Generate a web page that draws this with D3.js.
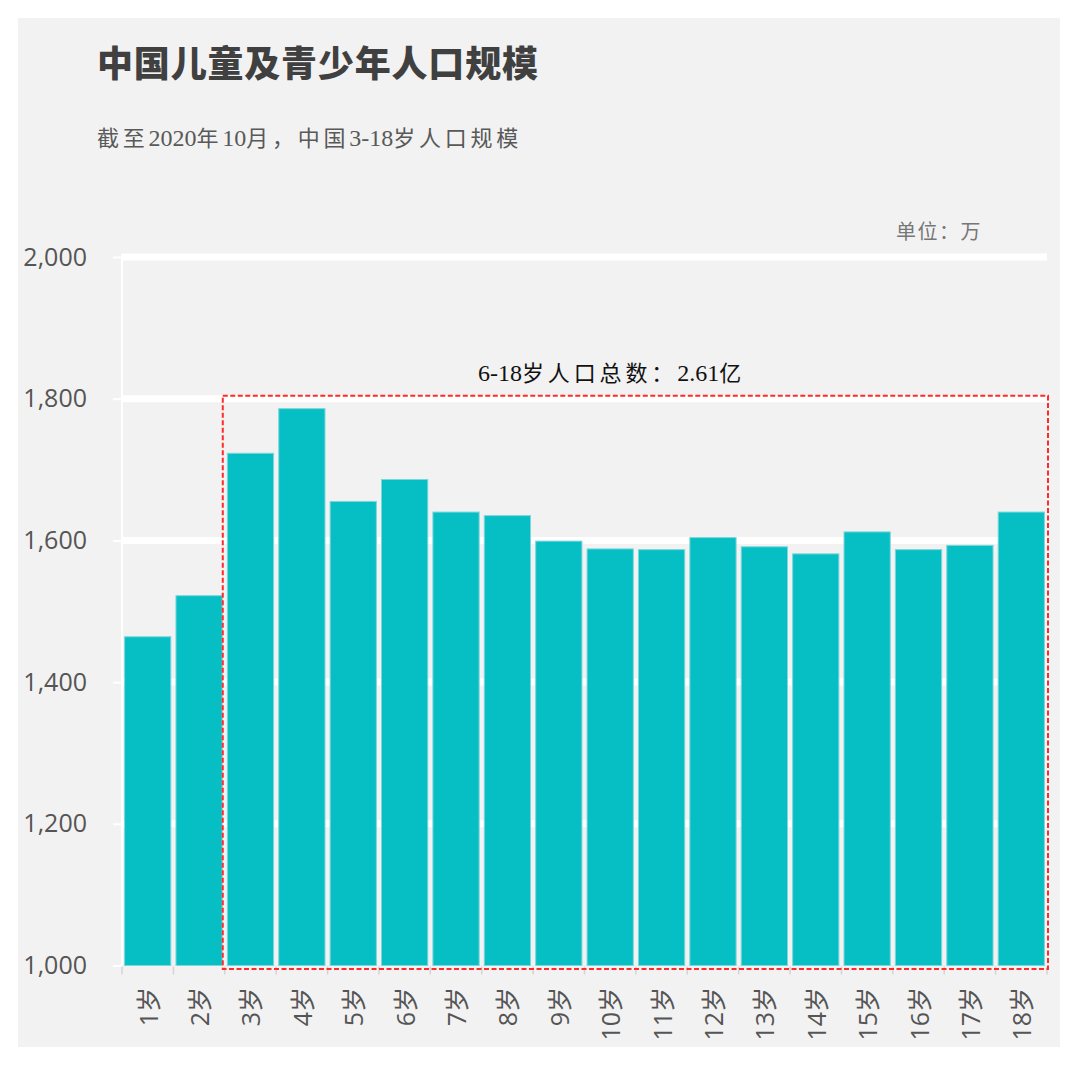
<!DOCTYPE html>
<html>
<head>
<meta charset="utf-8">
<script src="https://cdn.jsdelivr.net/npm/d3@7"></script>
<style>
  html, body { margin: 0; padding: 0; background: #ffffff; }
  svg { display: block; }
</style>
</head>
<body>
<svg id="chart" width="1080" height="1068"></svg>
<script>
// ---- data ----
const categories = ["1岁","2岁","3岁","4岁","5岁","6岁","7岁","8岁","9岁","10岁","11岁","12岁","13岁","14岁","15岁","16岁","17岁","18岁"];
const population = [1464,1522,1723,1786,1655,1686,1640,1635,1599,1588,1587,1604,1591,1581,1612,1587,1593,1640];
const yTicks = [1000,1200,1400,1600,1800,2000];
const titleText = "中国儿童及青少年人口规模";
const subtitleText = "截至2020年10月，中国3-18岁人口规模";
const unitText = "单位：万";
const noteText = "6-18岁人口总数：2.61亿";
const boxFrom = "3岁", boxTo = "18岁";

// ---- layout ----
const svg = d3.select("#chart");
const sansCJK = "'Noto Sans CJK SC', 'Noto Sans', sans-serif";
const serifCJK = "'Liberation Serif', 'Noto Sans CJK SC', serif";
const axisFont = "'Open Sans', 'Noto Sans', 'Noto Sans CJK SC', sans-serif";

svg.append("rect").attr("x", 18).attr("y", 18).attr("width", 1042).attr("height", 1029).attr("fill", "#f2f2f2");

const x = d3.scaleBand().domain(categories).range([122, 1047]).paddingInner(0.1).paddingOuter(0.05);
const y = d3.scaleLinear().domain([1000, 2000]).range([965.5, 257]);

// gridlines
svg.append("g").selectAll("line").data(yTicks.filter(t => t > 1000)).join("line")
  .attr("x1", 122).attr("x2", 1047)
  .attr("y1", d => y(d)).attr("y2", d => y(d))
  .attr("stroke", "#ffffff").attr("stroke-width", 7);

// y axis line + ticks
svg.append("line").attr("x1", 122).attr("x2", 122).attr("y1", y(2000) - 3).attr("y2", y(1000))
  .attr("stroke", "#ffffff").attr("stroke-width", 2);
const yAxis = d3.axisLeft(y).tickValues(yTicks).tickFormat(d3.format(",")).tickSize(9).tickPadding(26);
const gy = svg.append("g").attr("transform", "translate(122,0)").call(yAxis);
gy.select(".domain").remove();
gy.selectAll(".tick line").attr("stroke", "#ffffff").attr("stroke-width", 2);
gy.selectAll(".tick text").attr("fill", "#555555").style("font-family", axisFont).style("font-size", "25px");

// bars
svg.append("g").selectAll("rect").data(categories).join("rect")
  .attr("x", d => x(d)).attr("width", x.bandwidth())
  .attr("y", (d, i) => y(population[i]))
  .attr("height", (d, i) => y(1000) - y(population[i]))
  .attr("fill", "#06bfc4").attr("stroke", "#7fd6d9").attr("stroke-width", 1);

// x axis ticks at band boundaries
const step = x.step();
const boundaries = categories.map(c => x(c) - x.paddingInner() * step / 2).concat([x(categories[categories.length - 1]) + x.bandwidth() + x.paddingInner() * step / 2]);
svg.append("g").selectAll("line").data(boundaries).join("line")
  .attr("x1", d => d).attr("x2", d => d).attr("y1", y(1000) + 1).attr("y2", y(1000) + 9)
  .attr("stroke", "#d4d4d4").attr("stroke-width", 1.5);

// x labels, rotated
svg.append("g").selectAll("text").data(categories).join("text")
  .attr("transform", d => `translate(${x(d) + x.bandwidth() / 2},987) rotate(-90)`)
  .attr("text-anchor", "end").attr("dominant-baseline", "central")
  .attr("fill", "#555555").style("font-family", axisFont).style("font-size", "25px")
  .text(d => d);

// red dashed highlight box
const bx0 = x(boxFrom) - x.paddingInner() * step / 2 - 2;
const bx1 = x(boxTo) + x.bandwidth() + x.paddingInner() * step / 2 + 1;
svg.append("rect")
  .attr("x", bx0).attr("y", y(1800) - 3)
  .attr("width", bx1 - bx0).attr("height", y(1000) + 3.5 - (y(1800) - 3))
  .attr("fill", "none").attr("stroke", "#ff2b2b").attr("stroke-width", 2).attr("stroke-dasharray", "5,2.5");

// text helper: CJK runs get letter-spacing, Latin runs a larger size; fitted to a target width
function spacedText(str, xPos, yPos, anchor, targetW, cjkSize, latinSize, style) {
  const t = svg.append("text").attr("x", xPos).attr("y", yPos).attr("dominant-baseline", "central")
    .attr("font-size", cjkSize);
  Object.entries(style).forEach(([k, v]) => t.style(k, v));
  const re = /[\u3000-\u9fff\uff00-\uffef]/;
  const runs = str.match(/[\u3000-\u9fff\uff00-\uffef]+|[^\u3000-\u9fff\uff00-\uffef]+/g);
  const spans = runs.map(r => ({ r, cjk: re.test(r) }));
  const ts = t.selectAll("tspan").data(spans).join("tspan").text(d => d.r)
    .attr("font-size", d => (d.cjk ? cjkSize : latinSize));
  const w0 = t.node().getComputedTextLength();
  const n = spans.filter(s => s.cjk).reduce((a, s) => a + s.r.length, 0);
  const ls = Math.max(0, (targetW - w0) / n);
  ts.attr("letter-spacing", d => d.cjk ? ls : 0);
  const w1 = t.node().getComputedTextLength();
  if (anchor === "middle") t.attr("x", xPos - w1 / 2);
  return t;
}

// annotation
spacedText(noteText, 611.5, 373, "middle", 267, 22, 24,
  { "font-family": serifCJK, "fill": "#111111" });

// titles
svg.append("text").attr("x", 97).attr("y", 61).attr("dominant-baseline", "central")
  .attr("fill", "#404040").style("font-family", sansCJK).style("font-size", "36px").style("font-weight", "900")
  .attr("textLength", 441).attr("lengthAdjust", "spacing")
  .text(titleText);
spacedText(subtitleText, 97, 138, "start", 425, 22, 24,
  { "font-family": serifCJK, "fill": "#595959" });
spacedText(unitText, 896, 232, "start", 86, 20, 20,
  { "font-family": serifCJK, "fill": "#777777" });
</script>
</body>
</html>
